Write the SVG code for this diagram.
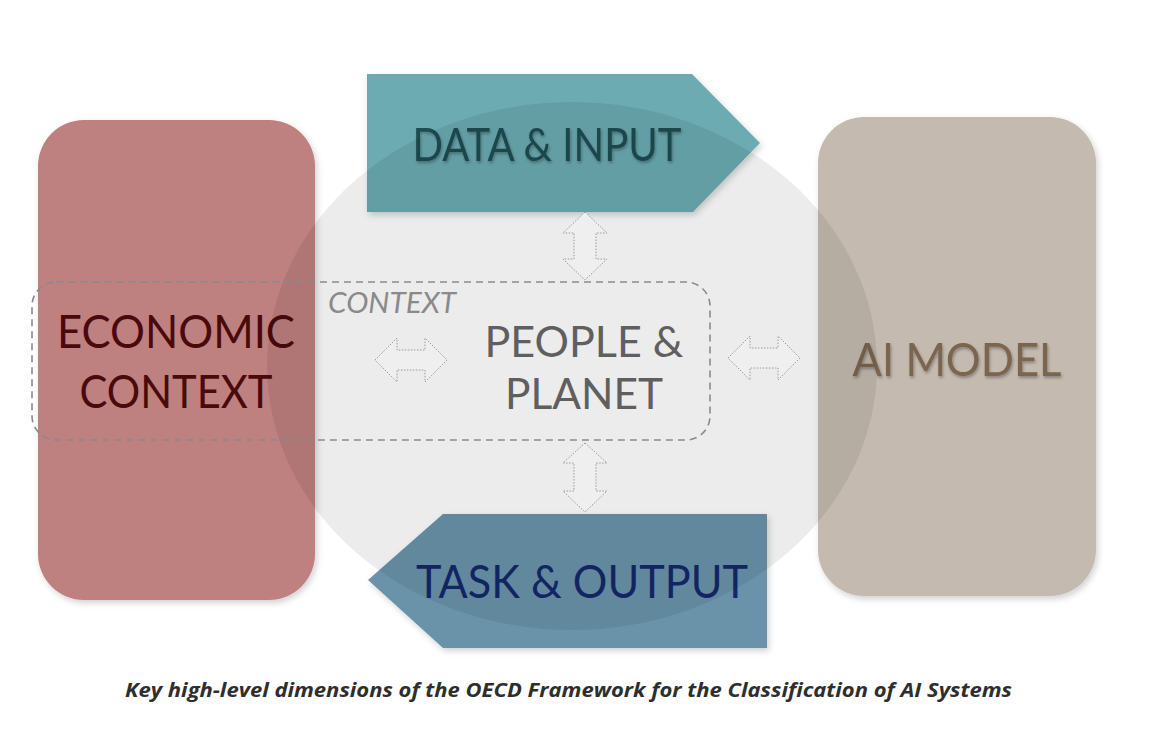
<svg xmlns="http://www.w3.org/2000/svg" width="1170" height="743" viewBox="0 0 1170 743">
  <defs>
    <filter id="sh" x="-10%" y="-10%" width="125%" height="125%">
      <feDropShadow dx="2" dy="3" stdDeviation="3" flood-color="#000" flood-opacity="0.18"/>
    </filter>
    <filter id="tsh" x="-10%" y="-20%" width="120%" height="160%">
      <feDropShadow dx="1" dy="2" stdDeviation="1.5" flood-color="#000" flood-opacity="0.3"/>
    </filter>
  </defs>
  <style>
    .big { font-family: Lato, "Open Sans", "Liberation Sans", sans-serif; font-size: 46px; text-anchor: middle; }
    .pp { font-size: 43px; }
    .arr { fill: #efefef; stroke: #9a9a9a; stroke-width: 1; stroke-dasharray: 1.5 1.5; }
  </style>
  <rect width="1170" height="743" fill="#ffffff"/>

  <g id="economic-context">
    <rect x="38" y="120" width="277" height="480" rx="46" fill="#bf8080" filter="url(#sh)"/>
    <text class="big" fill="#4a0a0c" x="176" y="348" textLength="238" lengthAdjust="spacingAndGlyphs">ECONOMIC</text>
    <text class="big" fill="#4a0a0c" x="176" y="408" textLength="193" lengthAdjust="spacingAndGlyphs">CONTEXT</text>
  </g>

  <g id="ai-model">
    <rect x="818" y="117" width="278" height="479" rx="46" fill="#c4bab0" filter="url(#sh)"/>
    <text class="big" fill="#7b6550" filter="url(#tsh)" x="957" y="376" textLength="209" lengthAdjust="spacingAndGlyphs">AI MODEL</text>
  </g>

  <g id="data-input">
    <path d="M367,74 L692,74 L760,143 L693,212 L367,212 Z" fill="#6dabb3" filter="url(#sh)"/>
    <text class="big" fill="#1f4d52" filter="url(#tsh)" x="547" y="161" textLength="269" lengthAdjust="spacingAndGlyphs">DATA &amp; INPUT</text>
  </g>

  <g id="task-output">
    <path d="M767,514 L443,514 L368,580 L443,648 L767,648 Z" fill="#6b93aa" filter="url(#sh)"/>
    <text class="big" fill="#14286a" x="582" y="598" textLength="332" lengthAdjust="spacingAndGlyphs">TASK &amp; OUTPUT</text>
  </g>

  <g id="circle">
    <ellipse cx="572" cy="366" rx="305" ry="264" fill="#000000" fill-opacity="0.075"/>
  </g>

  <g id="people-planet">
    <rect x="32" y="282" width="678" height="158" rx="24" fill="none" stroke="#8a8a8a" stroke-width="1.6" stroke-dasharray="7 5"/>
    <text x="328" y="313" font-family="Lato, Open Sans, Liberation Sans, sans-serif" font-style="italic" font-size="29" fill="#8a8a8a" textLength="128" lengthAdjust="spacingAndGlyphs">CONTEXT</text>
    <text class="big pp" fill="#5f5f5f" x="584" y="357" textLength="199" lengthAdjust="spacingAndGlyphs">PEOPLE &amp;</text>
    <text class="big pp" fill="#5f5f5f" x="584" y="409" textLength="158" lengthAdjust="spacingAndGlyphs">PLANET</text>
  </g>

  <g id="connectors">
    <path class="arr" d="M375,360 L397,338 L397,350 L425,350 L425,338 L447,360 L425,382 L425,370 L397,370 L397,382 Z"/>
    <path class="arr" d="M728,358 L750,336 L750,348 L778,348 L778,336 L800,358 L778,380 L778,368 L750,368 L750,380 Z"/>
    <path class="arr" d="M585,212 L607,233 L596,233 L596,259 L607,259 L585,280 L563,259 L574,259 L574,233 L563,233 Z"/>
    <path class="arr" d="M585,443 L607,463 L596,463 L596,491 L607,491 L585,512 L563,491 L574,491 L574,463 L563,463 Z"/>
  </g>

  <text x="125" y="697" font-family="Open Sans, Liberation Sans, sans-serif" font-weight="bold" font-style="italic" font-size="19" fill="#2e2e2e" textLength="887" lengthAdjust="spacingAndGlyphs">Key high-level dimensions of the OECD Framework for the Classification of AI Systems</text>
</svg>
